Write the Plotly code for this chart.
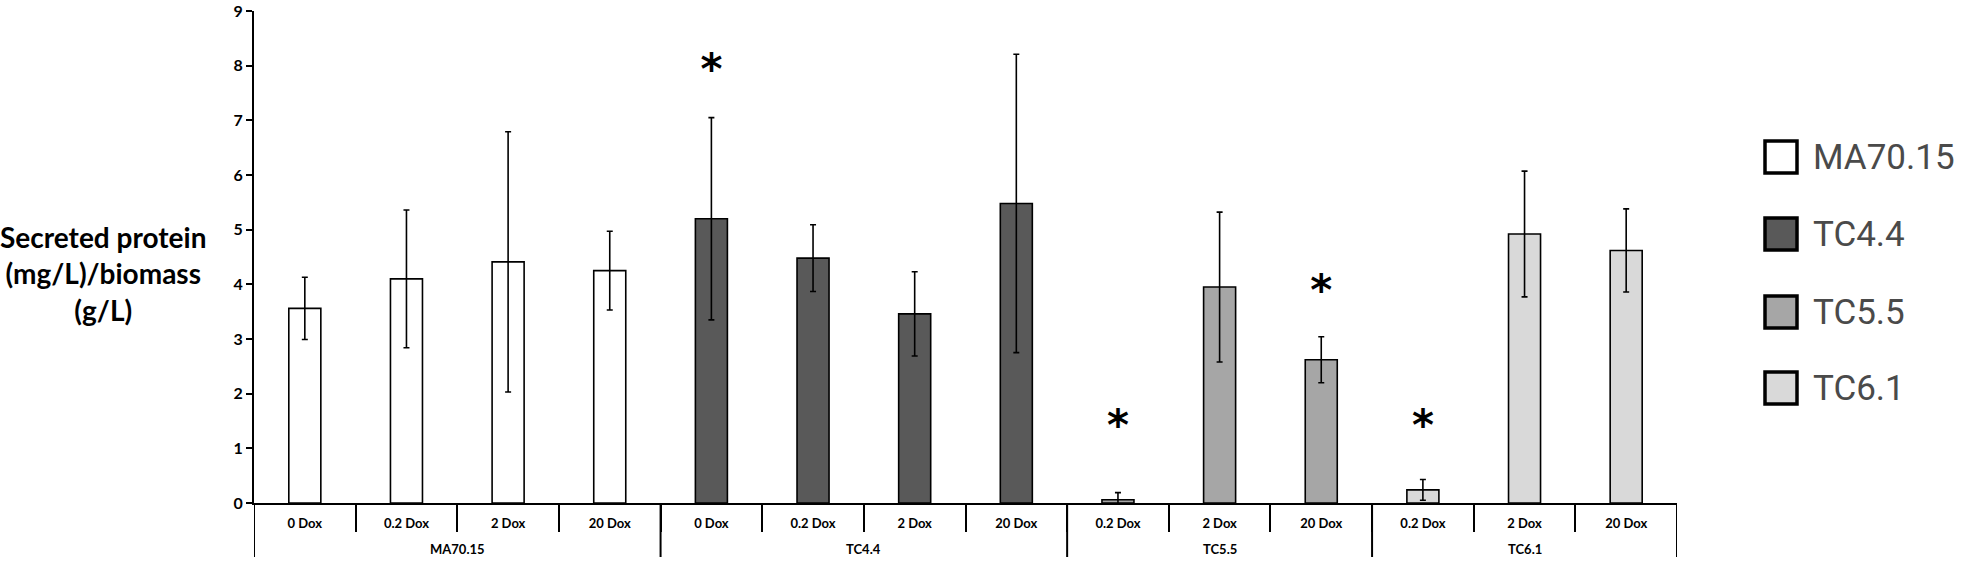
import plotly.graph_objects as go

# ---------------- data ----------------
conditions = ["0 Dox", "0.2 Dox", "2 Dox", "20 Dox",
              "0 Dox", "0.2 Dox", "2 Dox", "20 Dox",
              "0.2 Dox", "2 Dox", "20 Dox",
              "0.2 Dox", "2 Dox", "20 Dox"]
groups = ["MA70.15", "TC4.4", "TC5.5", "TC6.1"]
group_sizes = [4, 4, 3, 3]

ma_values = [3.56, 4.10, 4.41, 4.25]
ma_errors = [0.57, 1.26, 2.38, 0.72]
tc44_values = [5.20, 4.48, 3.46, 5.48]
tc44_errors = [1.85, 0.61, 0.77, 2.73]
tc55_values = [0.06, 3.95, 2.62]
tc55_errors = [0.13, 1.37, 0.42]
tc61_values = [0.24, 4.92, 4.62]
tc61_errors = [0.19, 1.15, 0.76]

series_values = [ma_values, tc44_values, tc55_values, tc61_values]
series_errors = [ma_errors, tc44_errors, tc55_errors, tc61_errors]
colors = ["#ffffff", "#595959", "#a6a6a6", "#d9d9d9"]

# significance markers: (category index, y position)
star_x = [4, 8, 10, 11]
star_y = [7.85, 1.35, 3.82, 1.35]

y_ticks = [0, 1, 2, 3, 4, 5, 6, 7, 8, 9]

# ---------------- layout geometry (pixels) ----------------
W, H = 1964, 565
ML, MR, MT, MB = 254, W - 1677, 11, H - 503
PW = W - ML - MR
PH = H - MT - MB

def px2paper_x(px):
    return (px - ML) / PW

def px2paper_y(py):
    return (H - MB - py) / PH

fig = go.Figure()

# bars
start = 0
for g, vals, errs, col, n in zip(groups, series_values, series_errors, colors, group_sizes):
    xs = list(range(start, start + n))
    fig.add_trace(go.Bar(
        x=xs, y=vals, name=g, width=0.315,
        marker=dict(color=col, line=dict(color="#000000", width=1.6)),
        error_y=dict(type="data", array=errs, visible=True,
                     color="#000000", thickness=1.6, width=3),
        showlegend=False,
    ))
    start += n

# asterisks
fig.add_trace(go.Scatter(
    x=star_x, y=star_y, mode="text", text=["*"] * len(star_x),
    textfont=dict(family="DejaVu Sans", size=42, color="#000000", weight="bold"),
    showlegend=False, hoverinfo="skip",
))

n_cat = len(conditions)
boundaries = [i + 0.5 for i in range(n_cat - 1)]

shapes = []
annotations = []
edges = [-0.5]
for n in group_sizes:
    edges.append(edges[-1] + n)
for e in edges:
    shapes.append(dict(type="line", xref="x", yref="paper",
                       x0=e, x1=e, y0=0, y1=px2paper_y(557),
                       line=dict(color="#000000", width=2)))
for g, a, b in zip(groups, edges[:-1], edges[1:]):
    annotations.append(dict(x=(a + b) / 2, y=px2paper_y(549), xref="x", yref="paper",
                            text=g, showarrow=False,
                            font=dict(family="Lato", size=13, color="#000000", weight="bold"),
                            xanchor="center", yanchor="middle"))

# y-axis title
annotations.append(dict(
    x=px2paper_x(103), y=px2paper_y(273), xref="paper", yref="paper",
    text="Secreted protein<br>(mg/L)/biomass<br>(g/L)", showarrow=False,
    font=dict(family="Lato", size=28, color="#000000", weight="bold"),
    xanchor="center", yanchor="middle", align="center"))

# manual legend
box_centres = [157, 234, 312, 388]
for g, col, cy in zip(groups, colors, box_centres):
    shapes.append(dict(type="rect", xref="paper", yref="paper",
                       x0=px2paper_x(1765), x1=px2paper_x(1797),
                       y0=px2paper_y(cy + 16), y1=px2paper_y(cy - 16),
                       fillcolor=col, line=dict(color="#000000", width=3.5)))
    annotations.append(dict(x=px2paper_x(1811), y=px2paper_y(cy),
                            xref="paper", yref="paper", text=g, showarrow=False,
                            font=dict(family="Roboto", size=35, color="#4a4a4a"),
                            xanchor="left", yanchor="middle"))

fig.update_layout(
    width=W, height=H,
    margin=dict(l=ML, r=MR, t=MT, b=MB, pad=0, autoexpand=False),
    paper_bgcolor="#ffffff", plot_bgcolor="#ffffff",
    barmode="overlay",
    shapes=shapes, annotations=annotations,
    showlegend=False,
    xaxis=dict(
        range=[-0.5, n_cat - 0.5], showgrid=False, zeroline=False, automargin=False,
        showline=True, linecolor="#000000", linewidth=2,
        tickmode="array", tickvals=list(range(n_cat)), ticktext=conditions,
        ticks="", ticklabelstandoff=7,
        tickfont=dict(family="Lato", size=13, color="#000000", weight="bold"),
        minor=dict(tickmode="array", tickvals=boundaries, ticks="outside",
                   ticklen=27, tickwidth=2, tickcolor="#000000", showgrid=False),
        fixedrange=True,
    ),
    yaxis=dict(
        range=[0, 9], tickmode="array", tickvals=y_ticks, automargin=False,
        showgrid=False, zeroline=False,
        showline=True, linecolor="#000000", linewidth=2,
        ticks="outside", ticklen=6, tickwidth=2, tickcolor="#000000",
        tickfont=dict(family="Lato", size=16, color="#000000", weight="bold"),
        fixedrange=True,
    ),
)

fig.write_html("out.html", config={"displayModeBar": False},
               post_script="document.body.style.margin='0px';")
